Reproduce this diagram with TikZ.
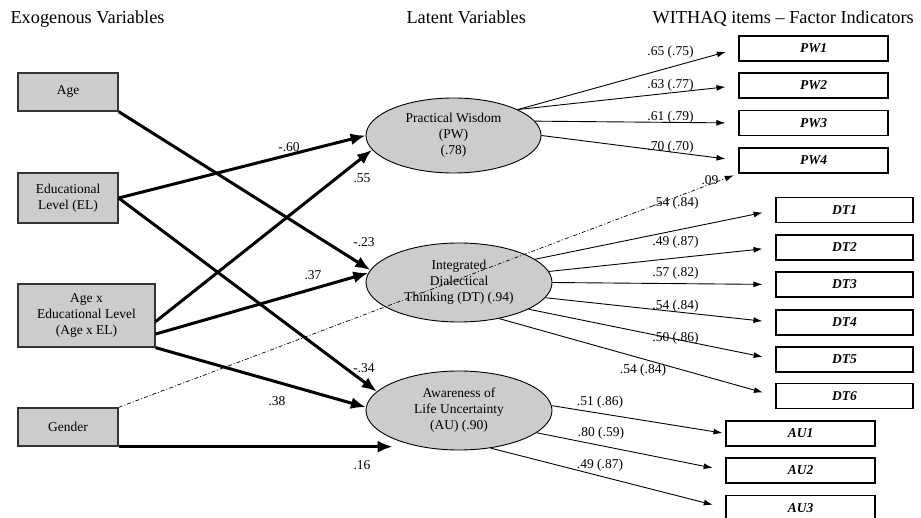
\documentclass[tikz,border=0pt]{standalone}
\usepackage{fontspec}
\setmainfont{Liberation Serif}
\usetikzlibrary{arrows.meta,shapes,positioning}

\newcommand{\bodysize}{\fontsize{13.5}{16}\selectfont}
\newcommand{\headsize}{\fontsize{18.3}{22}\selectfont}

\begin{document}
\begin{tikzpicture}[x=1pt,y=-1pt,font=\bodysize,
  exo/.style={draw=black!80,line width=1.3pt,fill=black!20,inner sep=0pt,align=center},
  latent/.style={ellipse,draw,line width=0.9pt,fill=black!20,inner sep=0pt,align=center},
  indicator/.style={draw,line width=1.2pt,inner sep=0pt,minimum height=25pt,font=\bodysize\bfseries\itshape},
  effect/.style={line width=3pt,-{Latex[length=15pt,width=12pt]}},
  loading/.style={line width=0.9pt,-{Latex[length=9pt,width=6pt]},shorten >=13pt},
  coef/.style={inner sep=0pt}]
\useasboundingbox (0,0) rectangle (921,518);

\node[anchor=base west,font=\headsize] (hexo) at (7,24) {Exogenous Variables};
\node[anchor=base west,font=\headsize] (hlat) at (403,24) {Latent Variables};
\node[anchor=base west,font=\headsize] (hitem) at (649,24) {WITHAQ items -- Factor Indicators};

\node[exo,minimum width=100pt,minimum height=38pt] (age) at (68,92) {Age};
\node[exo,minimum width=100pt,minimum height=50pt] (el) at (68,198) {Educational\\Level (EL)};
\node[exo,minimum width=137pt,minimum height=63pt] (axe) at (86.5,315.5) {Age x\\Educational Level\\(Age x EL)};
\node[exo,minimum width=100pt,minimum height=38pt] (gender) at (68,427) {Gender};

\node[latent,minimum width=175pt,minimum height=75pt] (pw) at (453.5,135.5) {Practical Wisdom\\(PW)\\(.78)};
\node[latent,minimum width=186pt,minimum height=79pt] (dt) at (459,282.5) {Integrated\\Dialectical\\Thinking (DT) (.94)};
\node[latent,minimum width=186pt,minimum height=79pt] (au) at (459,410.5) {Awareness of\\Life Uncertainty\\(AU) (.90)};

\node[indicator,minimum width=149pt] (pw1) at (813.5,48.5) {PW1};
\node[indicator,minimum width=149pt] (pw2) at (813.5,85.5) {PW2};
\node[indicator,minimum width=149pt] (pw3) at (813.5,123) {PW3};
\node[indicator,minimum width=149pt] (pw4) at (813.5,160.5) {PW4};
\node[indicator,minimum width=137pt] (dt1) at (844.5,210) {DT1};
\node[indicator,minimum width=137pt] (dt2) at (844.5,247.5) {DT2};
\node[indicator,minimum width=137pt] (dt3) at (844.5,284.5) {DT3};
\node[indicator,minimum width=137pt] (dt4) at (844.5,322.5) {DT4};
\node[indicator,minimum width=137pt] (dt5) at (844.5,359.5) {DT5};
\node[indicator,minimum width=137pt] (dt6) at (844.5,396) {DT6};
\node[indicator,minimum width=149pt] (au1) at (800.5,433.5) {AU1};
\node[indicator,minimum width=149pt] (au2) at (800.5,470.5) {AU2};
\node[indicator,minimum width=149pt] (au3) at (800.5,508) {AU3};

\draw[effect] (age.south east) -- (dt.172);
\draw[effect] (el.east) -- (pw.west);
\draw[effect] (el.east) -- (au.167);
\draw[effect] (axe.355) -- (pw.190);
\draw[effect] (axe.345) -- (dt.174);
\draw[effect] (axe.south east) -- (au.178);
\draw[effect] (gender.south east) -- (gender.south east -| au.203);
\draw[line width=0.7pt,dash pattern=on 4pt off 2pt on 1pt off 2pt,-{Latex[length=9pt,width=6pt]},shorten >=5pt] (gender.north east) -- (pw4.south west);

\draw[loading] (pw.22) -- (pw1.west);
\draw[loading] (pw.22) -- (pw2.west);
\draw[loading] (pw.10) -- (pw3.west);
\draw[loading] (pw.east) -- (pw4.west);
\draw[loading] (dt.17) -- (dt1.west);
\draw[loading] (dt.7) -- (dt2.west);
\draw[loading] (dt.east) -- (dt3.west);
\draw[loading] (dt.350) -- (dt4.west);
\draw[loading] (dt.339) -- (dt5.west);
\draw[loading] (dt.318) -- (dt6.west);
\draw[loading,shorten >=3pt] (au.3) -- (au1.west);
\draw[loading] (au.344) -- (au2.west);
\draw[loading] (au.310) -- (au3.west);

\node[coef] (cela) at (289,147) {-.60};
\node[coef] (caxp) at (362,178) {.55};
\node[coef] (caged) at (364,242) {-.23};
\node[coef] (caxd) at (313,275) {.37};
\node[coef] (celau) at (364,368) {-.34};
\node[coef] (caxau) at (277,401) {.38};
\node[coef] (cgau) at (362,465) {.16};
\node[coef] (cgpw) at (710,180) {.09};

\node[coef] (lpw1) at (670.5,52) {.65 (.75)};
\node[coef] (lpw2) at (670.5,85) {.63 (.77)};
\node[coef] (lpw3) at (670.5,117) {.61 (.79)};
\node[coef] (lpw4) at (670.5,147) {.70 (.70)};
\node[coef] (ldt1) at (675.5,203) {.54 (.84)};
\node[coef] (ldt2) at (675.5,242) {.49 (.87)};
\node[coef] (ldt3) at (675.5,273) {.57 (.82)};
\node[coef] (ldt4) at (675.5,306) {.54 (.84)};
\node[coef] (ldt5) at (675.5,338) {.50 (.86)};
\node[coef] (ldt6) at (643,370) {.54 (.84)};
\node[coef] (lau1) at (600,402) {.51 (.86)};
\node[coef] (lau2) at (601,433) {.80 (.59)};
\node[coef] (lau3) at (600,465) {.49 (.87)};
\end{tikzpicture}
\end{document}
